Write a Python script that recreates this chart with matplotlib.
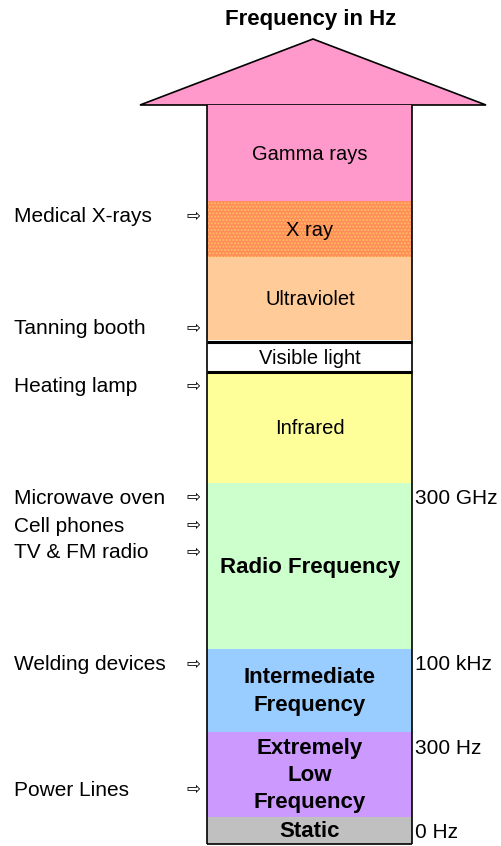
import matplotlib.pyplot as plt
from matplotlib.patches import Polygon, Rectangle

plt.rcParams['font.family'] = ['Liberation Sans', 'DejaVu Sans']

# bands of the spectrum, from top (high frequency) to bottom
band_names = ['Gamma rays', 'X ray', 'Ultraviolet', 'Visible light', 'Infrared',
              'Radio Frequency', 'Intermediate\nFrequency',
              'Extremely\nLow\nFrequency', 'Static']
band_top = [105, 201, 257, 342, 372, 483, 649, 732, 817]
band_bottom = [201, 257, 340, 372, 483, 649, 732, 817, 844]
band_colors = ['#FF99CC', '#FF8C5A', '#FFCC99', '#FFFFFF', '#FFFF99',
               '#CCFFCC', '#99CCFF', '#CC99FF', '#C0C0C0']
band_bold = [False, False, False, False, False, True, True, True, True]

# example sources on the left
source_names = ['Medical X-rays', 'Tanning booth', 'Heating lamp',
                'Microwave oven', 'Cell phones', 'TV & FM radio',
                'Welding devices', 'Power Lines']
source_y = [216, 328, 386, 497, 525, 552, 664, 789]

# frequency marks on the right
freq_labels = ['300 GHz', '100 kHz', '300 Hz', '0 Hz']
freq_y = [497, 664, 747, 831]

COL_LEFT, COL_RIGHT = 207.5, 412.5

fig = plt.figure(figsize=(5.01, 8.46), dpi=100)
ax = fig.add_axes([0, 0, 1, 1])
ax.set_xlim(0, 501)
ax.set_ylim(846, 0)
ax.axis('off')

# arrow head
ax.add_patch(Polygon([(140, 105), (313, 39), (486, 105)], closed=True,
                     facecolor='#FF99CC', edgecolor='black', lw=1.2))
ax.text(311, 19, 'Frequency in Hz', ha='center', va='center',
        fontsize=16, fontweight='bold')

for name, top, bot, col, bold in zip(band_names, band_top, band_bottom,
                                     band_colors, band_bold):
    if name == 'X ray':
        ax.add_patch(Rectangle((COL_LEFT, top), COL_RIGHT - COL_LEFT, bot - top,
                               facecolor=col, edgecolor='#FFC060', lw=0,
                               hatch='.....'))
    else:
        ax.add_patch(Rectangle((COL_LEFT, top), COL_RIGHT - COL_LEFT, bot - top,
                               facecolor=col, edgecolor='none'))
    if name == 'Visible light':
        ax.hlines([top, bot], COL_LEFT, COL_RIGHT, color='black', lw=2.2,
                  zorder=5)
    ax.text((COL_LEFT + COL_RIGHT) / 2, (top + bot) / 2 + 1, name,
            ha='center', va='center', fontsize=16 if bold else 14.5,
            fontweight='bold' if bold else 'normal', linespacing=1.4,
            zorder=6)

# column outline
ax.vlines([COL_LEFT, COL_RIGHT], band_top[0], band_bottom[-1], color='black',
          lw=1.2, zorder=5)
ax.hlines(band_bottom[-1], COL_LEFT, COL_RIGHT, color='black', lw=1.2, zorder=5)

for name, y in zip(source_names, source_y):
    ax.text(14, y + 1, name, ha='left', va='center', fontsize=15)
    ax.text(193, y, '\u21e8', ha='center', va='center', fontsize=12,
            family=['DejaVu Sans'])

for lab, y in zip(freq_labels, freq_y):
    ax.text(415, y + 1, lab, ha='left', va='center', fontsize=15)

fig.savefig('out.png', dpi=100)
